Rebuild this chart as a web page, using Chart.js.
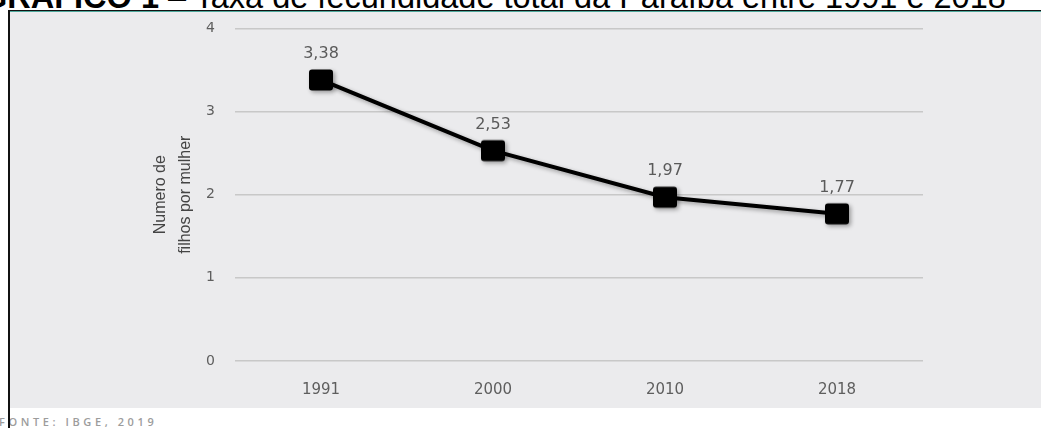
<!DOCTYPE html>
<html>
<head>
<meta charset="utf-8">
<script src="https://cdn.jsdelivr.net/npm/chart.js@4"></script>
<style>
  html, body { margin: 0; padding: 0; background: #fff; }
  body { width: 1041px; height: 428px; position: relative; overflow: hidden; }
  #titulo {
    position: absolute; left: -18px; top: -19px; white-space: nowrap;
    font: 32.5px "Liberation Sans", Arial, sans-serif; line-height: 32px; color: #000;
  }
  #painel { position: absolute; left: 9px; top: 12px; width: 1032px; height: 396px; background: #ebebed; }
  #linhaTopo1 { position: absolute; left: 8px; top: 10px; width: 1033px; height: 1px; background: #111; }
  #linhaTopo2 { position: absolute; left: 9px; top: 11px; width: 1032px; height: 1px; background: #4ea89c; }
  #bordaEsq { position: absolute; left: 8px; top: 10px; width: 2px; height: 418px; background: #111; z-index: 3; }
  #fonte {
    position: absolute; left: -1px; top: 414px; white-space: nowrap;
    font: 600 11px "Open Sans", sans-serif; letter-spacing: 3.6px; color: #9c9c9c;
  }
  #wrap { position: absolute; left: 0; top: 0; width: 1041px; height: 428px; z-index: 2; }
</style>
</head>
<body>
<div id="titulo"><b>GRÁFICO 1</b> – Taxa de fecundidade total da Paraíba entre 1991 e 2018</div>
<div id="painel"></div>
<div id="linhaTopo1"></div>
<div id="linhaTopo2"></div>
<div id="fonte">FONTE: IBGE, 2019</div>
<div id="bordaEsq"></div>
<div id="wrap"><canvas id="grafico" width="1041" height="428"></canvas></div>
<script>
// dados do gráfico
const anos = ['1991', '2000', '2010', '2018'];
const taxa = [3.38, 2.53, 1.97, 1.77];
const rotulos = ['3,38', '2,53', '1,97', '1,77'];
const ticksY = [0, 1, 2, 3, 4];

// marcador quadrado com cantos levemente arredondados
const marcador = document.createElement('canvas');
marcador.width = 28; marcador.height = 26;
const mctx = marcador.getContext('2d');
mctx.fillStyle = '#000';
mctx.beginPath();
mctx.roundRect(2, 2.5, 24, 21, 3);
mctx.fill();

// sombra leve na linha e nos marcadores
const sombra = {
  id: 'sombra',
  beforeDatasetsDraw(chart) {
    const c = chart.ctx;
    c.save();
    c.shadowColor = 'rgba(0,0,0,0.35)';
    c.shadowBlur = 4;
    c.shadowOffsetX = 2;
    c.shadowOffsetY = 2;
  },
  afterDatasetsDraw(chart) {
    chart.ctx.restore();
  }
};

// rótulos de valor acima dos pontos
const rotulosValor = {
  id: 'rotulosValor',
  afterDraw(chart) {
    const c = chart.ctx;
    const meta = chart.getDatasetMeta(0);
    c.save();
    c.font = '16px "DejaVu Sans", sans-serif';
    c.fillStyle = '#5a5a5a';
    c.textAlign = 'center';
    c.textBaseline = 'middle';
    meta.data.forEach((pt, i) => {
      c.fillText(rotulos[i], pt.x, pt.y - 26);
    });
    c.restore();
  }
};

new Chart(document.getElementById('grafico'), {
  type: 'line',
  data: {
    labels: anos,
    datasets: [{
      data: taxa,
      borderColor: '#000',
      borderWidth: 4,
      tension: 0,
      pointStyle: marcador,
      pointRadius: 12,
      pointHoverRadius: 12,
      fill: false
    }]
  },
  options: {
    responsive: false,
    animation: false,
    devicePixelRatio: 1,
    layout: { padding: { left: 0, right: 118, top: 27, bottom: 0 } },
    plugins: { legend: { display: false }, tooltip: { enabled: false } },
    scales: {
      x: {
        offset: true,
        grid: { display: false },
        border: { display: false },
        ticks: { color: '#5e5e5e', font: { family: 'DejaVu Sans', size: 15 }, padding: 12, maxRotation: 0 },
        afterFit: s => { s.height = 67; }
      },
      y: {
        min: 0,
        max: 4,
        afterBuildTicks: s => { s.ticks = ticksY.map(v => ({ value: v })); },
        grid: { color: '#c8c8c8', lineWidth: 1.5, drawTicks: false },
        border: { display: false },
        ticks: { color: '#5e5e5e', font: { family: 'DejaVu Sans', size: 14 }, padding: 20 },
        title: {
          display: true,
          text: ['Numero de', 'filhos por mulher'],
          color: '#444',
          font: { family: '"Liberation Sans Narrow", "Liberation Sans", sans-serif', size: 16, lineHeight: 1.5625 },
          padding: { top: 148.5, bottom: 0 }
        },
        afterFit: s => { s.width = 235; }
      }
    }
  },
  plugins: [sombra, rotulosValor]
});
</script>
</body>
</html>
